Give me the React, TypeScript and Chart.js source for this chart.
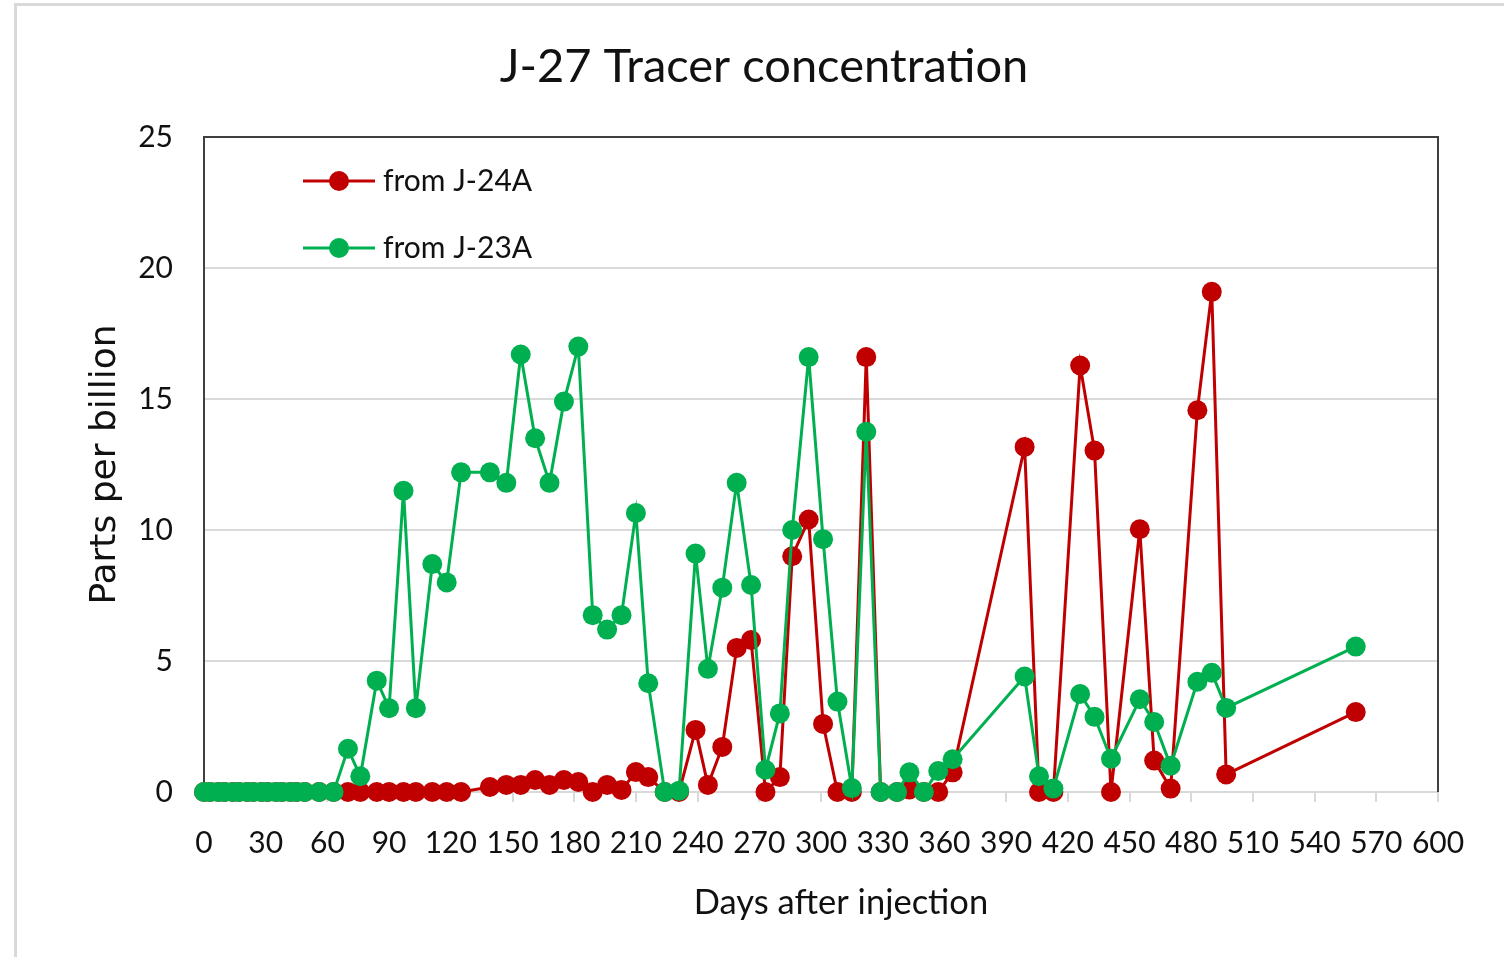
import React, { useEffect, useRef } from "react";
import { Chart, registerables } from "chart.js";

Chart.register(...registerables);

const chartTitle = "J-27 Tracer concentration";
const xAxisTitle = "Days after injection";
const yAxisTitle = "Parts per billion";
const seriesNames = ["from J-24A", "from J-23A"];
const seriesColors = ["#C00000", "#00B050"];

const days = [
  0, 3, 7, 10, 14, 17, 21, 24, 28, 31, 35, 38, 42, 45, 49, 56, 63,
  70, 76, 84, 90, 97, 103, 111, 118, 125,
  139, 147, 154, 161, 168, 175, 182, 189, 196, 203, 210, 216, 224, 231, 239, 245,
  252, 259, 266, 273, 280, 286, 294, 301, 308, 315, 322, 329, 337, 343, 350, 357, 364,
  399, 406, 413, 426, 433, 441, 455, 462, 470, 483, 490, 497, 560,
];

const fromJ24A = [
  0, 0, 0, 0, 0, 0, 0, 0, 0, 0, 0, 0, 0, 0, 0, 0, 0,
  0, 0, 0, 0, 0, 0, 0, 0, 0,
  0.19, 0.27, 0.27, 0.46, 0.27, 0.46, 0.38, 0, 0.27, 0.08, 0.76, 0.57, 0, 0, 2.37, 0.27,
  1.72, 5.5, 5.8, 0, 0.57, 9.0, 10.4, 2.6, 0, 0, 16.6, 0, 0, 0.1, 0, 0, 0.75,
  13.17, 0, 0, 16.28, 13.03, 0, 10.03, 1.2, 0.13, 14.57, 19.09, 0.67, 3.05,
];

const fromJ23A = [
  0, 0, 0, 0, 0, 0, 0, 0, 0, 0, 0, 0, 0, 0, 0, 0, 0,
  1.65, 0.6, 4.25, 3.2, 11.5, 3.2, 8.7, 8.0, 12.2,
  12.2, 11.8, 16.7, 13.5, 11.8, 14.9, 17.0, 6.75, 6.2, 6.75, 10.65, 4.15, 0, 0.05, 9.1, 4.7,
  7.8, 11.8, 7.9, 0.85, 3.0, 10.0, 16.6, 9.65, 3.45, 0.15, 13.75, 0, 0, 0.75, 0, 0.8, 1.25,
  4.41, 0.6, 0.13, 3.74, 2.87, 1.27, 3.54, 2.67, 1.0, 4.21, 4.55, 3.21, 5.55,
];

const xTickValues = [0, 30, 60, 90, 120, 150, 180, 210, 240, 270, 300, 330, 360, 390, 420, 450, 480, 510, 540, 570, 600];
const yTickValues = [0, 5, 10, 15, 20, 25];

const W = 1504;
const H = 957;
const TEXT = "#111111";
const FONT = "Lato, 'Liberation Sans', sans-serif";

const framePlugin = {
  id: "frame",
  beforeDraw(chart: any) {
    const ctx = chart.ctx;
    ctx.save();
    ctx.fillStyle = "#ffffff";
    ctx.fillRect(0, 0, chart.width, chart.height);
    ctx.strokeStyle = "#d9d9d9";
    ctx.lineWidth = 3;
    ctx.beginPath();
    ctx.moveTo(15.5, chart.height);
    ctx.lineTo(15.5, 4.5);
    ctx.lineTo(chart.width, 4.5);
    ctx.stroke();
    ctx.restore();
  },
  beforeDatasetsDraw(chart: any) {
    const { ctx, chartArea } = chart;
    ctx.save();
    ctx.strokeStyle = "#404040";
    ctx.lineWidth = 2;
    ctx.beginPath();
    ctx.moveTo(chartArea.left, chartArea.top);
    ctx.lineTo(chartArea.right, chartArea.top);
    ctx.lineTo(chartArea.right, chartArea.bottom);
    ctx.stroke();
    ctx.restore();
  },
  afterDatasetsDraw(chart: any) {
    const { ctx, chartArea } = chart;
    ctx.save();
    // chart title
    ctx.fillStyle = TEXT;
    ctx.textAlign = "center";
    ctx.textBaseline = "middle";
    ctx.font = `47px ${FONT}`;
    ctx.fillText(chartTitle, 764, 67);
    // x axis title
    ctx.font = `34.5px ${FONT}`;
    ctx.fillText(xAxisTitle, 841, 903);
    // legend
    const x0 = chartArea.left + 99;
    const lineLen = 72;
    seriesNames.forEach((name, i) => {
      const y = chartArea.top + 44 + i * 67;
      ctx.strokeStyle = seriesColors[i];
      ctx.lineWidth = 3;
      ctx.beginPath();
      ctx.moveTo(x0, y);
      ctx.lineTo(x0 + lineLen, y);
      ctx.stroke();
      ctx.fillStyle = seriesColors[i];
      ctx.beginPath();
      ctx.arc(x0 + lineLen / 2, y, 10, 0, Math.PI * 2);
      ctx.fill();
      ctx.fillStyle = TEXT;
      ctx.font = `30px ${FONT}`;
      ctx.textAlign = "left";
      ctx.textBaseline = "middle";
      ctx.fillText(name, x0 + lineLen + 8, y);
    });
    ctx.restore();
  },
};

export default function App() {
  const canvasRef = useRef<HTMLCanvasElement | null>(null);

  useEffect(() => {
    document.body.style.margin = "0";
    const canvas = canvasRef.current;
    if (!canvas) return;
    const series = [fromJ24A, fromJ23A];
    const chart = new Chart(canvas, {
      type: "line",
      data: {
        datasets: series.map((vals, i) => ({
          label: seriesNames[i],
          data: days.map((d, k) => ({ x: d, y: vals[k] })),
          borderColor: seriesColors[i],
          backgroundColor: seriesColors[i],
          pointBackgroundColor: seriesColors[i],
          pointBorderColor: seriesColors[i],
          pointRadius: 10,
          pointBorderWidth: 0,
          borderWidth: 3,
          tension: 0,
          clip: false,
          order: i === 0 ? 1 : 0,
        })),
      },
      options: {
        responsive: false,
        animation: false,
        devicePixelRatio: 1,
        layout: { padding: { left: 0, right: 66, top: 137, bottom: 0 } },
        plugins: {
          legend: { display: false },
          tooltip: { enabled: false },
          title: { display: false },
        },
        scales: {
          x: {
            type: "linear",
            min: 0,
            max: 600,
            afterBuildTicks: (scale: any) => {
              scale.ticks = xTickValues.map((v) => ({ value: v }));
            },
            afterFit: (scale: any) => {
              scale.height = H - 792;
            },
            grid: {
              display: true,
              drawOnChartArea: false,
              drawTicks: true,
              tickLength: 10,
              color: "#d9d9d9",
              lineWidth: 2,
            },
            border: { display: true, color: "#d9d9d9", width: 2 },
            ticks: {
              autoSkip: false,
              maxRotation: 0,
              color: TEXT,
              padding: 23,
              font: { family: FONT, size: 30 },
            },
            title: { display: false },
          },
          y: {
            type: "linear",
            min: 0,
            max: 25,
            afterBuildTicks: (scale: any) => {
              scale.ticks = yTickValues.map((v) => ({ value: v }));
            },
            afterFit: (scale: any) => {
              scale.width = 204;
            },
            grid: {
              color: "#d9d9d9",
              lineWidth: 2,
              drawTicks: false,
            },
            border: { display: true, color: "#404040", width: 2 },
            ticks: {
              color: TEXT,
              padding: 31,
              font: { family: FONT, size: 30 },
            },
            title: {
              display: true,
              text: yAxisTitle,
              color: TEXT,
              font: { family: "'DejaVu Sans', sans-serif", size: 36 },
              padding: { top: 84, bottom: 0 },
            },
          },
        },
      },
      plugins: [framePlugin],
    });
    return () => chart.destroy();
  }, []);

  return (
    <div style={{ width: W, height: H, position: "relative" }}>
      <canvas ref={canvasRef} width={W} height={H} style={{ width: W, height: H, display: "block" }} />
    </div>
  );
}
